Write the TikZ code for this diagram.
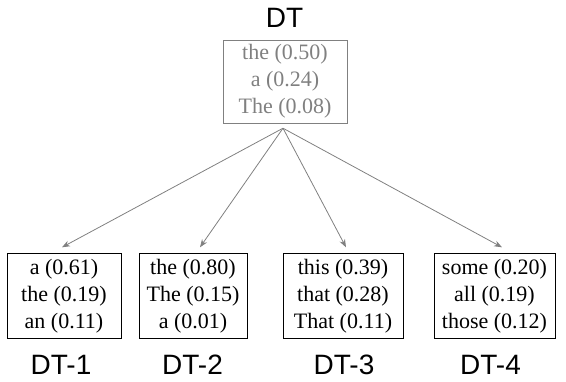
\documentclass[tikz,border=0pt]{standalone}
\usepackage{fontspec}
\setmainfont{Liberation Serif}
\newfontfamily\tagfont{Liberation Sans}
\usetikzlibrary{arrows.meta}

\tikzset{
  dist/.style={draw, align=center, minimum height=85pt, inner sep=0pt,
    font=\fontsize{22}{27}\selectfont},
  tag/.style={inner sep=0pt, font=\tagfont\fontsize{28}{28}\selectfont},
  edge/.style={gray, line width=0.8pt, -{Stealth[length=8pt,width=6pt]}}
}

\begin{document}
\begin{tikzpicture}[x=1pt, y=-1pt]
    \useasboundingbox (0,0) rectangle (566,381);

    \node[tag] at (284.5, 18) (dtlab)  {DT};
    \node[dist, gray, minimum width=124pt, minimum height=83pt] at (285, 81.5) (dt)
        {the (0.50)\\a (0.24)\\The (0.08)};

    \node[dist, minimum width=114pt] at (64, 296)    (d1)  {a (0.61)\\the (0.19)\\an (0.11)};
    \node[dist, minimum width=108pt] at (193, 296)   (d2)  {the (0.80)\\The (0.15)\\a (0.01)};
    \node[dist, minimum width=120pt] at (343, 296)   (d3)  {this (0.39)\\that (0.28)\\That (0.11)};
    \node[dist, minimum width=121pt] at (494.5, 296) (d4)  {some (0.20)\\all (0.19)\\those (0.12)};

    \node[tag] at (61, 365)    (d1lab)  {DT-1};
    \node[tag] at (192.5, 365) (d2lab)  {DT-2};
    \node[tag] at (344, 365)   (d3lab)  {DT-3};
    \node[tag] at (490.5, 365) (d4lab)  {DT-4};

    \coordinate (fork) at ([xshift=-2pt, yshift=-5pt]dt.south);
    \coordinate (in1)  at ([xshift=-2pt, yshift=6pt]d1.north);
    \coordinate (in2)  at ([xshift=7pt, yshift=6pt]d2.north);
    \coordinate (in3)  at ([xshift=3pt, yshift=6pt]d3.north);
    \coordinate (in4)  at ([xshift=7.5pt, yshift=6pt]d4.north);

    \draw[edge] (fork) -- (in1);
    \draw[edge] (fork) -- (in2);
    \draw[edge] (fork) -- (in3);
    \draw[edge] (fork) -- (in4);
\end{tikzpicture}
\end{document}
